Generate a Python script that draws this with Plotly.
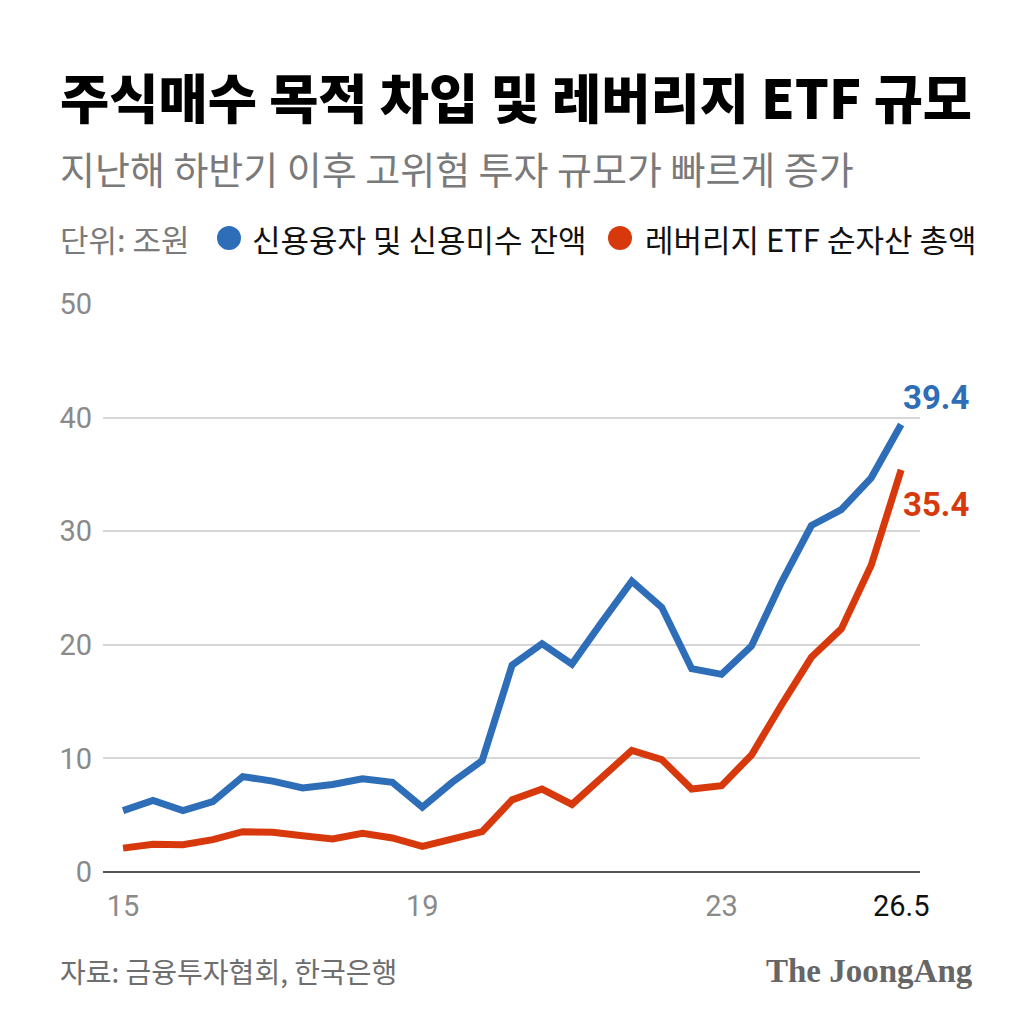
import plotly.graph_objects as go

# half-year-ish index positions, labels only at a few of them
idx = list(range(27))
tick_pos = [0, 10, 20, 26]
tick_txt = ["15", "19", "23", "<span style='color:#111111'>26.5</span>"]

credit = [5.4, 6.3, 5.4, 6.2, 8.4, 8.0, 7.4, 7.7, 8.2, 7.9, 5.7, 7.9, 9.8,
          18.2, 20.1, 18.3, 22.0, 25.6, 23.3, 17.9, 17.4, 19.9, 25.5, 30.5,
          31.9, 34.7, 39.4]
lev_etf = [2.1, 2.45, 2.4, 2.85, 3.55, 3.5, 3.2, 2.9, 3.4, 3.0, 2.25, 2.9, 3.55,
           6.35, 7.3, 5.95, 8.4, 10.7, 9.9, 7.3, 7.6, 10.3, 14.7, 18.9,
           21.4, 27.0, 35.4]

BLUE = "#2e6db8"
RED = "#d8390c"
KR = "Noto Sans CJK KR"

# page body has an 8px margin, so the figure is drawn 8px in from the corner
OFF = 8
W = H = 1022
L, R, T, B = 103 - OFF, 920 - OFF, 304 - OFF, 872.5 - OFF


def px(x):
    return (x - OFF - L) / (R - L)


def py(y):
    return (B - (y - OFF)) / (B - T)


fig = go.Figure()
fig.add_trace(go.Scatter(x=idx, y=credit, mode="lines", name="신용융자 및 신용미수 잔액",
                         line=dict(color=BLUE, width=7)))
fig.add_trace(go.Scatter(x=idx, y=lev_etf, mode="lines", name="레버리지 ETF 순자산 총액",
                         line=dict(color=RED, width=7)))


def label(x, y, text, size, color, anchor="left", family=KR, weight="normal"):
    return dict(x=px(x), y=py(y), xref="paper", yref="paper", xanchor=anchor, yanchor="middle",
                text=text, showarrow=False,
                font=dict(family=family, size=size, color=color, weight=weight))


ann = [
    label(58, 95, "주식매수 목적 차입 및 레버리지 ETF 규모", 53.5, "#000000", weight=900),
    label(58, 167, "지난해 하반기 이후 고위험 투자 규모가 빠르게 증가", 38, "#7a7a7a"),
    label(58, 238, "단위: 조원", 31, "#7a7a7a"),
    label(250, 238, "신용융자 및 신용미수 잔액", 31, "#111111"),
    label(643, 238, "레버리지 ETF 순자산 총액", 31, "#111111"),
    label(58, 972, "자료: 금융투자협회, 한국은행", 28, "#6e6e6e"),
    label(975, 972, "The JoongAng", 33, "#666666", anchor="right",
          family="Liberation Serif", weight="bold"),
]

# end-of-line value labels
ann.append(dict(x=idx[-1], y=credit[-1], xref="x", yref="y", xanchor="left", yanchor="middle",
                text="<b>%.1f</b>" % credit[-1], showarrow=False, xshift=0, yshift=27,
                font=dict(family="Roboto", size=33, color=BLUE)))
ann.append(dict(x=idx[-1], y=lev_etf[-1], xref="x", yref="y", xanchor="left", yanchor="middle",
                text="<b>%.1f</b>" % lev_etf[-1], showarrow=False, xshift=0, yshift=-35,
                font=dict(family="Roboto", size=33, color=RED)))

shapes = []
for cx, col in [(229, BLUE), (620, RED)]:
    shapes.append(dict(type="circle", xref="paper", yref="paper", xsizemode="pixel", ysizemode="pixel",
                       xanchor=px(cx), yanchor=py(238), x0=-12, x1=12, y0=-12, y1=12,
                       fillcolor=col, line=dict(width=0)))

fig.update_layout(
    width=W, height=H,
    margin=dict(l=L, r=W - R, t=T, b=H - B),
    paper_bgcolor="white", plot_bgcolor="white",
    showlegend=False,
    annotations=ann, shapes=shapes,
    xaxis=dict(range=[-0.67, 26.63], tickmode="array", tickvals=tick_pos, ticktext=tick_txt,
               showgrid=False, zeroline=False, showline=False, ticks="",
               tickfont=dict(family="Roboto", size=29, color="#8a8a8a"), ticklabelstandoff=14),
    yaxis=dict(range=[0, 50], tickvals=[0, 10, 20, 30, 40, 50], showgrid=True,
               gridcolor="#d6d6d6", gridwidth=2, zeroline=True, zerolinecolor="#555555",
               zerolinewidth=2, showline=False, ticks="",
               tickfont=dict(family="Roboto", size=29, color="#8a8a8a"), ticklabelstandoff=10),
)

fig.write_html("out.html")
